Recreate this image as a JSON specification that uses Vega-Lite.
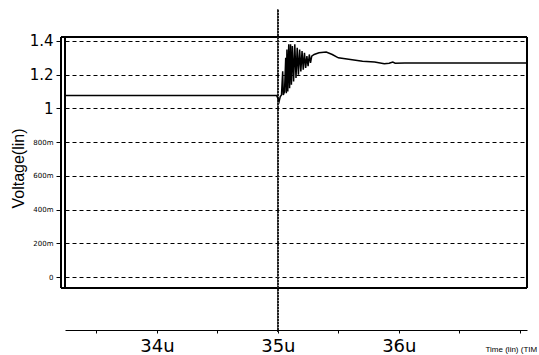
{
  "$schema": "https://vega.github.io/schema/vega-lite/v6.json",
  "width": 462,
  "height": 293,
  "autosize": {"type": "none"},
  "padding": {"left": 65, "top": 37, "right": 12, "bottom": 25},
  "background": "white",
  "config": {"view": {"stroke": null}, "font": "DejaVu Sans"},
  "data": {
    "values": [
      {"t": 33.24, "v": 1.076},
      {"t": 34.99, "v": 1.076},
      {"t": 35.0, "v": 1.06},
      {"t": 35.01, "v": 1.04},
      {"t": 35.02, "v": 1.07},
      {"t": 35.03, "v": 1.08},
      {"t": 35.04, "v": 1.22},
      {"t": 35.045, "v": 1.08},
      {"t": 35.055, "v": 1.1},
      {"t": 35.065, "v": 1.3},
      {"t": 35.07, "v": 1.09},
      {"t": 35.075, "v": 1.35},
      {"t": 35.082, "v": 1.1},
      {"t": 35.09, "v": 1.38},
      {"t": 35.097, "v": 1.12},
      {"t": 35.105, "v": 1.38},
      {"t": 35.112, "v": 1.14},
      {"t": 35.12, "v": 1.37},
      {"t": 35.13, "v": 1.16},
      {"t": 35.14, "v": 1.38},
      {"t": 35.15, "v": 1.18},
      {"t": 35.16, "v": 1.36},
      {"t": 35.17, "v": 1.2},
      {"t": 35.18, "v": 1.35},
      {"t": 35.19, "v": 1.22},
      {"t": 35.2, "v": 1.34},
      {"t": 35.21, "v": 1.23},
      {"t": 35.22, "v": 1.33},
      {"t": 35.23, "v": 1.24},
      {"t": 35.24, "v": 1.31},
      {"t": 35.25, "v": 1.25},
      {"t": 35.26, "v": 1.32},
      {"t": 35.27, "v": 1.27},
      {"t": 35.28, "v": 1.31},
      {"t": 35.3, "v": 1.32},
      {"t": 35.34, "v": 1.33},
      {"t": 35.4, "v": 1.335},
      {"t": 35.45, "v": 1.32},
      {"t": 35.5, "v": 1.3},
      {"t": 35.6, "v": 1.29},
      {"t": 35.7, "v": 1.28},
      {"t": 35.8, "v": 1.275},
      {"t": 35.88, "v": 1.265},
      {"t": 35.92, "v": 1.268},
      {"t": 35.95, "v": 1.275},
      {"t": 35.97, "v": 1.268},
      {"t": 36.05, "v": 1.27},
      {"t": 37.06, "v": 1.27}
    ]
  },
  "layer": [
    {
      "mark": {"type": "rule", "color": "black", "strokeWidth": 1.5},
      "encoding": {
        "y": {"datum": 1.4237, "type": "quantitative"},
        "x": {"datum": 33.207, "type": "quantitative"},
        "x2": {"datum": 37.06}
      }
    },
    {
      "mark": {"type": "rule", "color": "black", "strokeWidth": 1.5},
      "encoding": {
        "y": {"datum": -0.0653, "type": "quantitative"},
        "x": {"datum": 33.207, "type": "quantitative"},
        "x2": {"datum": 37.06}
      }
    },
    {
      "mark": {"type": "rule", "color": "black", "strokeWidth": 1},
      "encoding": {
        "x": {"datum": 33.207, "type": "quantitative"},
        "y": {"datum": 1.4237, "type": "quantitative"},
        "y2": {"datum": -0.0653}
      }
    },
    {
      "mark": {"type": "rule", "color": "black", "strokeWidth": 1},
      "encoding": {
        "x": {"datum": 33.24, "type": "quantitative"},
        "y": {"datum": 1.4237, "type": "quantitative"},
        "y2": {"datum": -0.0653}
      }
    },
    {
      "mark": {"type": "rule", "color": "black", "strokeWidth": 1},
      "encoding": {
        "x": {"datum": 37.06, "type": "quantitative"},
        "y": {"datum": 1.4237, "type": "quantitative"},
        "y2": {"datum": -0.0653}
      }
    },
    {
      "mark": {"type": "rule", "color": "#222222", "strokeWidth": 1, "strokeDash": [1.5, 1.5]},
      "encoding": {
        "x": {"datum": 35, "type": "quantitative"},
        "y": {"datum": 1.584, "type": "quantitative"},
        "y2": {"datum": -0.326}
      }
    },
    {
      "mark": {"type": "line", "color": "black", "strokeWidth": 1.5},
      "encoding": {
        "x": {
          "field": "t",
          "type": "quantitative",
          "scale": {"domain": [33.24, 37.06], "nice": false, "zero": false},
          "axis": {
            "values": [33.5, 34, 34.5, 35, 35.5, 36, 36.5, 37],
            "labelExpr": "(datum.value % 1 == 0 && datum.value < 36.5) ? datum.value + 'u' : ''",
            "domain": true,
            "domainColor": "black",
            "tickColor": "black",
            "tickSize": 3,
            "grid": false,
            "labelFont": "DejaVu Sans",
            "labelFontSize": 18,
            "labelColor": "black",
            "labelPadding": 4,
            "labelFlush": false,
            "labelOverlap": false,
            "title": "Time (lin) (TIM",
            "titleFont": "Liberation Sans",
            "titleFontSize": 8,
            "titleFontWeight": "normal",
            "titleColor": "black",
            "titleX": 420,
            "titleY": 21,
            "titleAlign": "left",
            "titleBaseline": "alphabetic"
          }
        },
        "y": {
          "field": "v",
          "type": "quantitative",
          "scale": {"domain": [-0.3144, 1.4237], "nice": false, "zero": false},
          "axis": {
            "values": [0, 0.1, 0.2, 0.3, 0.4, 0.5, 0.6, 0.7, 0.8, 0.9, 1, 1.1, 1.2, 1.3, 1.4],
            "offset": 4,
            "domain": false,
            "grid": true,
            "gridColor": "black",
            "gridDash": [4, 3],
            "gridOpacity": {"condition": {"test": "round(datum.value*10) % 2 != 0", "value": 0}, "value": 1},
            "tickColor": "black",
            "tickSize": {"condition": {"test": "round(datum.value*10) % 2 != 0", "value": 3}, "value": 5},
            "labelExpr": "round(datum.value*10) % 2 != 0 ? '' : (datum.value > 0.99 ? format(datum.value, '~g') : (datum.value < 0.01 ? '0' : round(datum.value*1000) + 'm'))",
            "labelFont": "DejaVu Sans",
            "labelFontSize": {"condition": {"test": "datum.value > 0.99", "value": 15}, "value": 7},
            "labelColor": "black",
            "labelPadding": 3,
            "labelOverlap": false,
            "labelFlush": false,
            "title": "Voltage(lin)",
            "titleFont": "Liberation Sans",
            "titleFontSize": 16,
            "titleFontWeight": "normal",
            "titleColor": "black",
            "titleX": -43,
            "titleY": 131,
            "titleAngle": 270,
            "titleAlign": "center",
            "titleBaseline": "middle"
          }
        }
      }
    }
  ]
}
